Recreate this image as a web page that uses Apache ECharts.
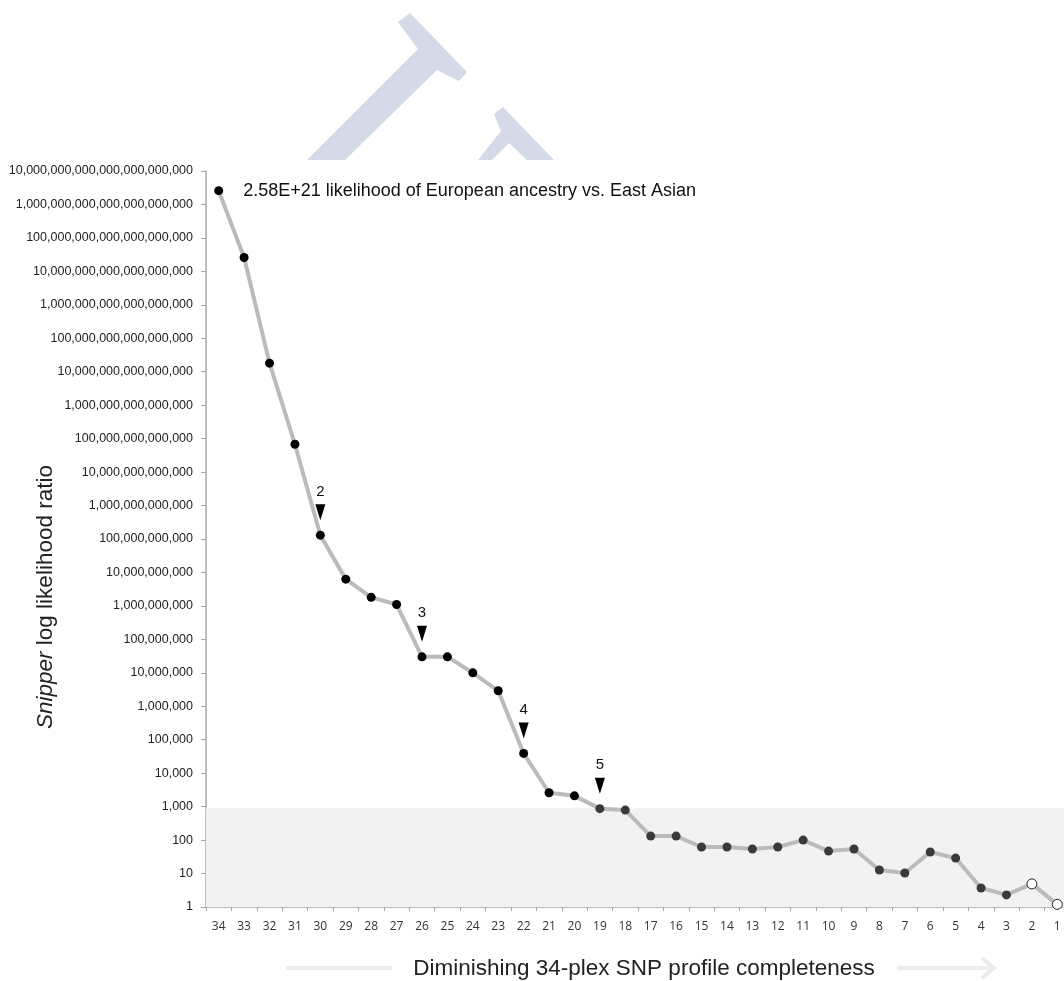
<!DOCTYPE html>
<html><head><meta charset="utf-8">
<script src="https://cdn.jsdelivr.net/npm/echarts@6/dist/echarts.min.js"></script>
<style>html,body{margin:0;padding:0;background:#fff}#c{width:1064px;height:981px}</style>
</head><body><div id="c"></div>
<script>
// ---- data ----
const categories = ['34','33','32','31','30','29','28','27','26','25','24','23','22','21','20','19','18',
  '17','16','15','14','13','12','11','10','9','8','7','6','5','4','3','2','1'];
const ratios = [2.58e21, 2.6e19, 1.8e16, 6.8e13, 1.3e11, 6.3e9, 1.8e9, 1.1e9, 3.0e7, 3.0e7, 1.0e7, 2.9e6,
  3.9e4, 2.6e3, 2.1e3, 870, 790, 132, 132, 62, 62, 54, 62, 100, 47, 54, 12.8, 10.4, 44, 29, 3.7, 2.3, 4.9, 1.2];
const hollowCategories = ['2', '1'];
const arrowCategories = ['30', '26', '22', '19'];
const arrowLabels = ['2', '3', '4', '5'];
const yTickExponents = [0,1,2,3,4,5,6,7,8,9,10,11,12,13,14,15,16,17,18,19,20,21,22];
const shadeMin = 1;
const shadeMax = 900;
const annotationText = '2.58E+21 likelihood of European ancestry vs. East Asian';
const xTitle = 'Diminishing 34-plex SNP profile completeness';
const yTitle = '{i|Snipper} log likelihood ratio';

// ---- chart ----
const chart = echarts.init(document.getElementById('c'), null, {renderer: 'canvas'});

const yTickValues = yTickExponents.map(e => Math.pow(10, e));

function fmtPow(v) {
  const e = Math.round(Math.log10(v));
  return ('1' + '0'.repeat(e)).replace(/\B(?=(\d{3})+(?!\d))/g, ',');
}

const seriesData = ratios.map((v, i) => {
  const o = {value: v};
  if (hollowCategories.includes(categories[i])) {
    o.itemStyle = {color: '#ffffff', borderColor: '#222', borderWidth: 1};
    o.symbolSize = 10;
  }
  if (i === 0) {
    o.label = {show: true, position: 'right', distance: 20, formatter: annotationText,
      fontFamily: 'Liberation Sans', fontSize: 18, color: '#111'};
  }
  return o;
});

const markPoints = arrowCategories.map((c, i) => ({
  coord: [c, ratios[categories.indexOf(c)]],
  value: arrowLabels[i]
}));

const AX = '#a9a9a9';

const option = {
  backgroundColor: '#ffffff',
  animation: false,
  grid: {left: 206, top: 171, width: 864, height: 736, containLabel: false, outerBoundsMode: 'none'},
  xAxis: {
    type: 'category',
    data: categories,
    boundaryGap: true,
    axisLine: {lineStyle: {color: AX, width: 1.5}},
    axisTick: {show: true, length: 4, lineStyle: {color: AX}},
    axisLabel: {interval: 0, margin: 14, fontFamily: 'Open Sans', fontSize: 12, color: '#333'},
    splitLine: {show: false}
  },
  yAxis: {
    type: 'log',
    logBase: 10,
    min: 1,
    max: 1e22,
    splitNumber: 22,
    axisLine: {show: true, lineStyle: {color: AX, width: 1.5}},
    axisTick: {show: true, length: 5, lineStyle: {color: AX}, customValues: yTickValues},
    axisLabel: {margin: 13, fontFamily: 'Liberation Sans', fontSize: 12.5, color: '#222',
      formatter: fmtPow, customValues: yTickValues, hideOverlap: false},
    splitLine: {show: false},
    minorTick: {show: false}
  },
  series: [{
    type: 'line',
    data: seriesData,
    symbol: 'circle',
    symbolSize: 9,
    lineStyle: {color: '#bbbbbb', width: 4},
    itemStyle: {color: p => (p.value < shadeMax ? '#3a3a3a' : '#000000')},
    emphasis: {disabled: true},
    z: 3,
    markArea: {
      silent: true,
      itemStyle: {color: '#f2f2f2'},
      data: [[{yAxis: shadeMin}, {yAxis: shadeMax}]]
    },
    markPoint: {
      silent: true,
      symbol: 'path://M0,0 L10,0 L5,16 Z',
      symbolSize: [10, 16],
      symbolOffset: [0, -23],
      itemStyle: {color: '#000'},
      label: {show: true, position: 'top', distance: 5, formatter: '{c}',
        fontFamily: 'Liberation Sans', fontSize: 15, color: '#111'},
      data: markPoints
    }
  }],
  graphic: [
    // watermark logo (background decoration)
    {type: 'polygon', z: -10, silent: true,
      shape: {points: [[398,22],[410,13],[467,72],[459,81],[437,70],[345,160],[307,160],[418,49]]},
      style: {fill: '#d5dae8'}},
    {type: 'polygon', z: -10, silent: true,
      shape: {points: [[494,114],[503,107],[554,160],[527,160],[509,143],[492,160],[478,160],[501,131]]},
      style: {fill: '#d5dae8'}},
    // y title
    {type: 'text', x: 46, y: 597, rotation: Math.PI / 2, silent: true,
      style: {text: yTitle, fontFamily: 'Liberation Sans', fontSize: 22.5, fill: '#222',
        align: 'center', verticalAlign: 'middle',
        rich: {i: {fontStyle: 'italic', fontFamily: 'Liberation Sans', fontSize: 22.5, fill: '#222'}}}},
    // x title
    {type: 'text', x: 644, y: 969, silent: true,
      style: {text: xTitle, fontFamily: 'Liberation Sans', fontSize: 22.5, fill: '#222',
        align: 'center', verticalAlign: 'middle'}},
    // direction arrows
    {type: 'polyline', silent: true, shape: {points: [[286,968],[392,968]]},
      style: {stroke: '#ebebeb', lineWidth: 4}},
    {type: 'polyline', silent: true, shape: {points: [[897,968],[993,968]]},
      style: {stroke: '#ebebeb', lineWidth: 4}},
    {type: 'polyline', silent: true, shape: {points: [[982,958],[994,968],[982,978]]},
      style: {stroke: '#ebebeb', lineWidth: 4, lineJoin: 'miter'}}
  ]
};
chart.setOption(option);
</script>
</body></html>
